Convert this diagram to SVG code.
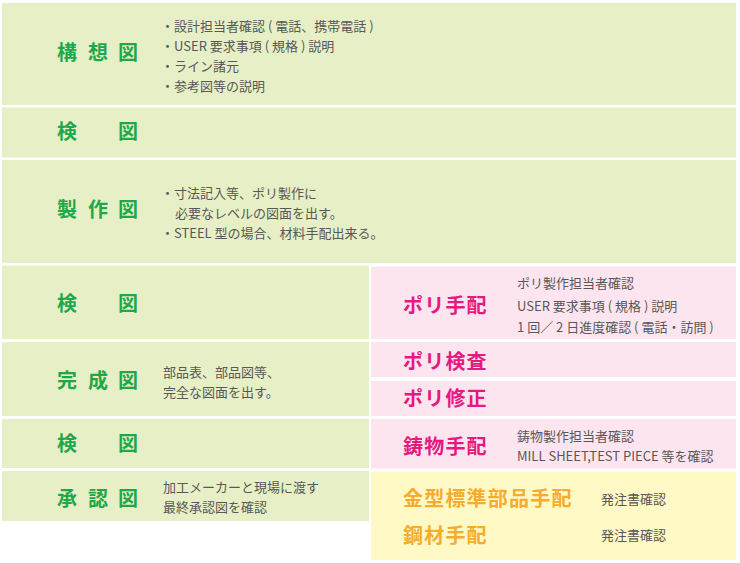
<svg xmlns="http://www.w3.org/2000/svg" width="740" height="563" viewBox="0 0 740 563">
<style>
.g{fill:#e6efc5}
.p{fill:#fde5f0}
.y{fill:#fff9c6}
.lg{font-family:"Noto Sans CJK JP","Noto Sans",sans-serif;font-weight:bold;font-size:20px;fill:#1fa84a}
.lp{font-family:"Noto Sans CJK JP","Noto Sans",sans-serif;font-weight:bold;font-size:20px;fill:#e6197f;letter-spacing:1.2px}
.lo{font-family:"Noto Sans CJK JP","Noto Sans",sans-serif;font-weight:bold;font-size:20px;fill:#f6ac2c;letter-spacing:1.2px}
.d{font-family:"Noto Sans CJK JP","Noto Sans",sans-serif;font-size:13px;fill:#595757}
</style>
<rect width="740" height="563" fill="#ffffff"/>
<g id="kousouzu">
<rect class="g" x="2" y="3" width="734" height="102"/>
<text class="lg" y="60"><tspan x="57">構</tspan><tspan x="88">想</tspan><tspan x="118">図</tspan></text>
<text class="d"><tspan x="161" y="31">・設計担当者確認 ( 電話、携帯電話 )</tspan><tspan x="161" y="51">・USER 要求事項 ( 規格 ) 説明</tspan><tspan x="161" y="71">・ライン諸元</tspan><tspan x="161" y="91">・参考図等の説明</tspan></text>
</g>
<g id="kenzu1">
<rect class="g" x="2" y="107.5" width="734" height="50"/>
<text class="lg" y="139"><tspan x="57">検</tspan><tspan x="118">図</tspan></text>
</g>
<g id="seisakuzu">
<rect class="g" x="2" y="160" width="734" height="103"/>
<text class="lg" y="217"><tspan x="57">製</tspan><tspan x="88">作</tspan><tspan x="118">図</tspan></text>
<text class="d"><tspan x="161" y="198">・寸法記入等、ポリ製作に</tspan><tspan x="175" y="218">必要なレベルの図面を出す。</tspan><tspan x="161" y="238">・STEEL 型の場合、材料手配出来る。</tspan></text>
</g>
<g id="kenzu2">
<rect class="g" x="2" y="265.5" width="367" height="73.5"/>
<text class="lg" y="311"><tspan x="57">検</tspan><tspan x="118">図</tspan></text>
</g>
<g id="kanseizu">
<rect class="g" x="2" y="342" width="367" height="74"/>
<text class="lg" y="388"><tspan x="57">完</tspan><tspan x="88">成</tspan><tspan x="118">図</tspan></text>
<text class="d"><tspan x="163" y="377">部品表、部品図等、</tspan><tspan x="163" y="397">完全な図面を出す。</tspan></text>
</g>
<g id="kenzu3">
<rect class="g" x="2" y="419" width="367" height="49"/>
<text class="lg" y="451"><tspan x="57">検</tspan><tspan x="118">図</tspan></text>
</g>
<g id="shouninzu">
<rect class="g" x="2" y="471" width="367" height="50"/>
<text class="lg" y="506"><tspan x="57">承</tspan><tspan x="88">認</tspan><tspan x="118">図</tspan></text>
<text class="d"><tspan x="163" y="492">加工メーカーと現場に渡す</tspan><tspan x="163" y="512">最終承認図を確認</tspan></text>
</g>
<g id="poritehai">
<rect class="p" x="371" y="266.5" width="365" height="72.5"/>
<text class="lp" x="403" y="313">ポリ手配</text>
<text class="d"><tspan x="517" y="288">ポリ製作担当者確認</tspan><tspan x="517" y="311">USER 要求事項 ( 規格 ) 説明</tspan><tspan x="517" y="332">1 回／ 2 日進度確認 ( 電話・訪問 )</tspan></text>
</g>
<g id="porikensa">
<rect class="p" x="371" y="342" width="365" height="35"/>
<text class="lp" x="403" y="369">ポリ検査</text>
</g>
<g id="porishusei">
<rect class="p" x="371" y="381" width="365" height="35"/>
<text class="lp" x="403" y="406">ポリ修正</text>
</g>
<g id="imonotehai">
<rect class="p" x="371" y="419" width="365" height="49.5"/>
<text class="lp" x="403" y="454">鋳物手配</text>
<text class="d"><tspan x="517" y="441">鋳物製作担当者確認</tspan><tspan x="517" y="461">MILL SHEET,TEST PIECE 等を確認</tspan></text>
</g>
<g id="kanagata">
<rect class="y" x="371" y="471.5" width="365" height="88.5"/>
<text class="lo" x="403" y="506">金型標準部品手配</text>
<text class="d" x="601" y="504">発注書確認</text>
<text class="lo" x="403" y="543">鋼材手配</text>
<text class="d" x="601" y="540">発注書確認</text>
</g>
</svg>
